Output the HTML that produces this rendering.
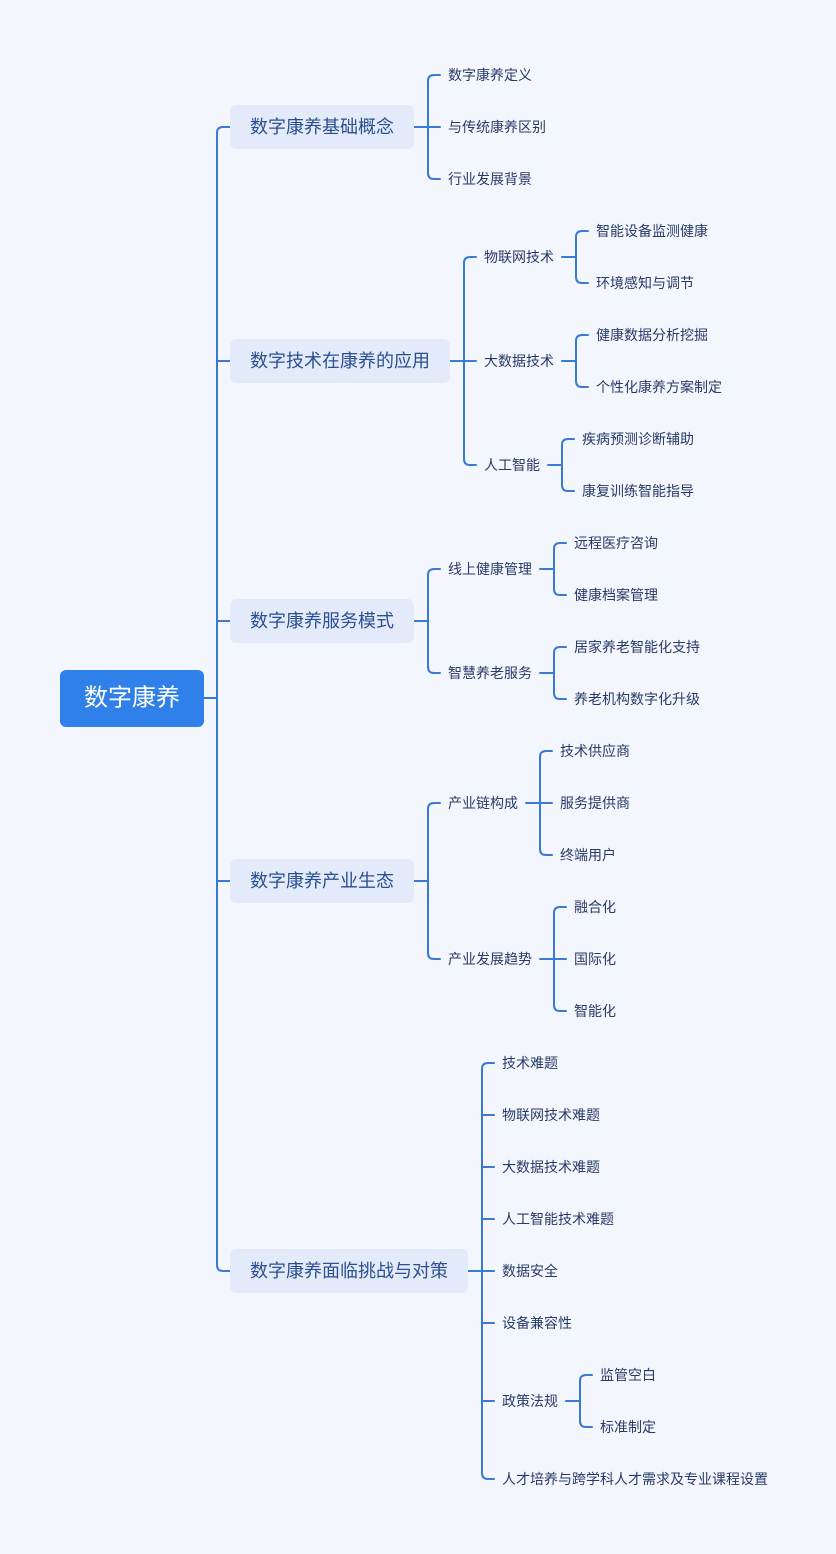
<!DOCTYPE html>
<html><head><meta charset="utf-8"><style>
html,body{margin:0;padding:0;background:#f4f6fd;}
svg{display:block}
text{font-family:"Liberation Sans","Noto Sans CJK SC",sans-serif;dominant-baseline:central;}
.l{font-size:14px;fill:#283a68}
.m{font-size:18px;fill:#2b4f91}
</style></head><body>
<svg width="836" height="1554" viewBox="0 0 836 1554" xmlns="http://www.w3.org/2000/svg">
<rect width="836" height="1554" fill="#f4f6fd"/>
<g fill="none" stroke="#3a7ad2" stroke-width="2" stroke-linecap="round">
<path d="M204 698 H217 M230 127 H223 Q217 127 217 133 V1265 Q217 1271 223 1271 H230 M217 361 H230 M217 621 H230 M217 881 H230"/>
<path d="M414 127 H428 M440 75 H434 Q428 75 428 81 V173 Q428 179 434 179 H440 M428 127 H440"/>
<path d="M450 361 H464 M476 257 H470 Q464 257 464 263 V459 Q464 465 470 465 H476 M464 361 H476"/>
<path d="M562 257 H576 M588 231 H582 Q576 231 576 237 V277 Q576 283 582 283 H588"/>
<path d="M562 361 H576 M588 335 H582 Q576 335 576 341 V381 Q576 387 582 387 H588"/>
<path d="M548 465 H562 M574 439 H568 Q562 439 562 445 V485 Q562 491 568 491 H574"/>
<path d="M414 621 H428 M440 569 H434 Q428 569 428 575 V667 Q428 673 434 673 H440"/>
<path d="M540 569 H554 M566 543 H560 Q554 543 554 549 V589 Q554 595 560 595 H566"/>
<path d="M540 673 H554 M566 647 H560 Q554 647 554 653 V693 Q554 699 560 699 H566"/>
<path d="M414 881 H428 M440 803 H434 Q428 803 428 809 V953 Q428 959 434 959 H440"/>
<path d="M526 803 H540 M552 751 H546 Q540 751 540 757 V849 Q540 855 546 855 H552 M540 803 H552"/>
<path d="M540 959 H554 M566 907 H560 Q554 907 554 913 V1005 Q554 1011 560 1011 H566 M554 959 H566"/>
<path d="M468 1271 H482 M494 1063 H488 Q482 1063 482 1069 V1473 Q482 1479 488 1479 H494 M482 1115 H494 M482 1167 H494 M482 1219 H494 M482 1271 H494 M482 1323 H494 M482 1401 H494"/>
<path d="M566 1401 H580 M592 1375 H586 Q580 1375 580 1381 V1421 Q580 1427 586 1427 H592"/>
</g>
<rect x="60" y="670" width="144" height="57" rx="6" fill="#2f80e8"/>
<text x="132" y="698" text-anchor="middle" style="font-size:24px;fill:#fff">数字康养</text>
<g fill="#e3eafa">
<rect x="230" y="105" width="184" height="44" rx="6"/>
<rect x="230" y="339" width="220" height="44" rx="6"/>
<rect x="230" y="599" width="184" height="44" rx="6"/>
<rect x="230" y="859" width="184" height="44" rx="6"/>
<rect x="230" y="1249" width="238" height="44" rx="6"/>
</g>
<text class="m" x="250" y="127">数字康养基础概念</text>
<text class="m" x="250" y="361">数字技术在康养的应用</text>
<text class="m" x="250" y="621">数字康养服务模式</text>
<text class="m" x="250" y="881">数字康养产业生态</text>
<text class="m" x="250" y="1271">数字康养面临挑战与对策</text>
<g class="l">
<text class="l" x="448" y="75">数字康养定义</text>
<text class="l" x="448" y="127">与传统康养区别</text>
<text class="l" x="448" y="179">行业发展背景</text>
<text class="l" x="484" y="257">物联网技术</text>
<text class="l" x="484" y="361">大数据技术</text>
<text class="l" x="484" y="465">人工智能</text>
<text class="l" x="596" y="231">智能设备监测健康</text>
<text class="l" x="596" y="283">环境感知与调节</text>
<text class="l" x="596" y="335">健康数据分析挖掘</text>
<text class="l" x="596" y="387">个性化康养方案制定</text>
<text class="l" x="582" y="439">疾病预测诊断辅助</text>
<text class="l" x="582" y="491">康复训练智能指导</text>
<text class="l" x="448" y="569">线上健康管理</text>
<text class="l" x="448" y="673">智慧养老服务</text>
<text class="l" x="574" y="543">远程医疗咨询</text>
<text class="l" x="574" y="595">健康档案管理</text>
<text class="l" x="574" y="647">居家养老智能化支持</text>
<text class="l" x="574" y="699">养老机构数字化升级</text>
<text class="l" x="448" y="803">产业链构成</text>
<text class="l" x="448" y="959">产业发展趋势</text>
<text class="l" x="560" y="751">技术供应商</text>
<text class="l" x="560" y="803">服务提供商</text>
<text class="l" x="560" y="855">终端用户</text>
<text class="l" x="574" y="907">融合化</text>
<text class="l" x="574" y="959">国际化</text>
<text class="l" x="574" y="1011">智能化</text>
<text class="l" x="502" y="1063">技术难题</text>
<text class="l" x="502" y="1115">物联网技术难题</text>
<text class="l" x="502" y="1167">大数据技术难题</text>
<text class="l" x="502" y="1219">人工智能技术难题</text>
<text class="l" x="502" y="1271">数据安全</text>
<text class="l" x="502" y="1323">设备兼容性</text>
<text class="l" x="502" y="1401">政策法规</text>
<text class="l" x="502" y="1479">人才培养与跨学科人才需求及专业课程设置</text>
<text class="l" x="600" y="1375">监管空白</text>
<text class="l" x="600" y="1427">标准制定</text>
</g>
</svg>
</body></html>
